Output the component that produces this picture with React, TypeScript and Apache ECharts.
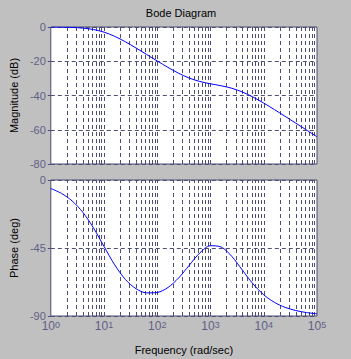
import React, { useEffect, useRef } from "react";
import * as echarts from "echarts";

// Frequencies (rad/sec), 5 points per decade
const freq = [
  1, 1.585, 2.512, 3.981, 6.31,
  10, 15.85, 25.12, 39.81, 63.1,
  100, 158.5, 251.2, 398.1, 631,
  1000, 1585, 2512, 3981, 6310,
  10000, 15849, 25119, 39811, 63096,
  100000,
];

// Magnitude (dB)
const magnitude = [
  -0.04, -0.11, -0.27, -0.64, -1.45,
  -3.01, -5.45, -8.63, -12.24, -16.03,
  -19.86, -23.58, -26.99, -29.81, -31.83,
  -33.18, -34.31, -35.78, -37.97, -40.94,
  -44.44, -48.23, -52.14, -56.1, -60.09,
  -64.08,
];

// Phase (deg)
const phase = [
  -5.61, -8.85, -13.85, -21.3, -31.62,
  -44.0, -56.16, -65.78, -71.92, -74.71,
  -74.43, -71.14, -64.88, -56.45, -48.23,
  -43.5, -44.34, -50.53, -59.73, -68.83,
  -75.99, -80.97, -84.26, -86.37, -87.71,
  -88.55,
];

const decades = [1, 10, 100, 1000, 10000];
const multipliers = [2, 3, 4, 5, 6, 7, 8, 9, 10];

const LINE = "#4d4d73";
const LABEL = "#5f5f85";
const FONT = "'Liberation Sans', Arial, sans-serif";

export default function App() {
  const ref = useRef<HTMLDivElement>(null);
  useEffect(() => {
    if (!ref.current) return;
    const chart = echarts.init(ref.current, undefined, { renderer: "svg" });

    const vGrid: number[] = [];
    decades.forEach((d) => multipliers.forEach((m) => {
      const v = d * m;
      if (v < 100000) vGrid.push(v);
    }));

    const markLine = {
      silent: true,
      symbol: "none",
      z: 1,
      label: { show: false },
      lineStyle: { color: LINE, type: [4, 3], width: 1 },
      data: vGrid.map((v) => ({ xAxis: v })),
    };

    const xAxisBase = (gridIndex: number, showLabel: boolean) => ({
      type: "log",
      logBase: 10,
      gridIndex,
      min: 1,
      max: 100000,
      interval: 1,
      axisLine: { show: false },
      axisTick: { show: false },
      splitLine: { show: false },
      axisLabel: {
        show: showLabel,
        margin: 4,
        formatter: (v: number) => `{b|10}{s|${Math.round(Math.log10(v))}}`,
        rich: {
          b: { fontSize: 12, lineHeight: 12, padding: [6, 0, 0, 0], verticalAlign: "bottom", color: LABEL, fontFamily: FONT },
          s: { fontSize: 9, lineHeight: 9, verticalAlign: "top", color: LABEL, fontFamily: FONT },
        },
      },
      name: showLabel ? "Frequency (rad/sec)" : "",
      nameLocation: "middle",
      nameGap: 28,
      nameTextStyle: { color: "#000", fontSize: 11, fontFamily: FONT },
    });

    const yAxisBase = (gridIndex: number, min: number, interval: number, name: string) => ({
      type: "value",
      gridIndex,
      min,
      max: 0,
      interval,
      axisLine: { show: false },
      axisTick: { show: true, inside: false, length: 3, lineStyle: { color: LINE } },
      splitLine: { show: true, lineStyle: { color: LINE, type: [4, 3], width: 1 } },
      axisLabel: { color: LABEL, fontSize: 11, margin: 5, fontFamily: FONT },
      name,
      nameLocation: "middle",
      nameGap: 28,
      nameTextStyle: { color: "#000", fontSize: 11, fontFamily: FONT },
    });

    chart.setOption({
      animation: false,
      backgroundColor: "#c0c0c0",
      textStyle: { fontFamily: FONT },
      graphic: [
        {
          type: "text",
          x: 181,
          y: 13,
          style: {
            text: "Bode Diagram",
            fontSize: 11,
            fontFamily: FONT,
            fill: "#000",
            textAlign: "center",
            textVerticalAlign: "middle",
          },
        },
      ],
      grid: [
        { left: 46, top: 27, width: 271, height: 137, show: true, backgroundColor: "#ffffff", borderColor: LINE, borderWidth: 1 },
        { left: 46, top: 180, width: 271, height: 136, show: true, backgroundColor: "#ffffff", borderColor: LINE, borderWidth: 1 },
      ],
      xAxis: [xAxisBase(0, false), xAxisBase(1, true)],
      yAxis: [
        yAxisBase(0, -80, 20, "Magnitude (dB)"),
        yAxisBase(1, -90, 45, "Phase (deg)"),
      ],
      series: [
        {
          type: "line",
          xAxisIndex: 0,
          yAxisIndex: 0,
          data: freq.map((f, i) => [f, magnitude[i]]),
          showSymbol: false,
          smooth: 0.3,
          z: 3,
          lineStyle: { color: "#0000ff", width: 1 },
          markLine,
        },
        {
          type: "line",
          xAxisIndex: 1,
          yAxisIndex: 1,
          data: freq.map((f, i) => [f, phase[i]]),
          showSymbol: false,
          smooth: 0.3,
          z: 3,
          lineStyle: { color: "#0000ff", width: 1 },
          markLine,
        },
      ],
    });
    return () => chart.dispose();
  }, []);

  return (
    <div
      ref={ref}
      style={{ position: "fixed", left: 0, top: 0, width: 351, height: 359, background: "#c0c0c0" }}
    />
  );
}
